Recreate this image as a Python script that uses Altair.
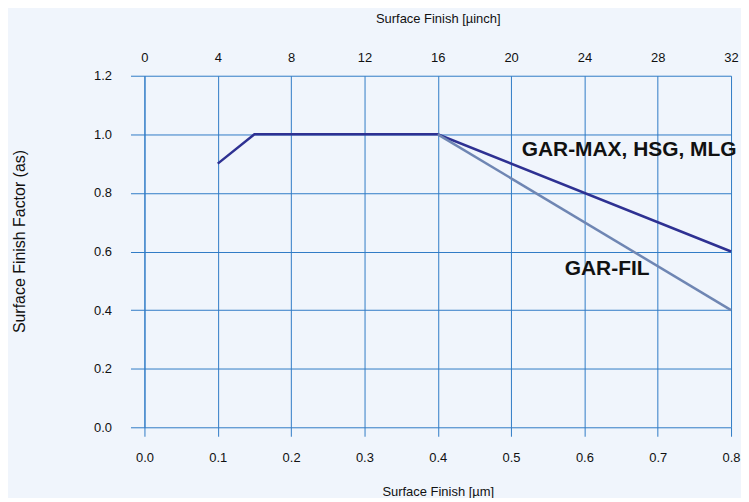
import altair as alt
import pandas as pd

# data
max_x = [0.1, 0.15, 0.4, 0.8]
max_y = [0.9, 1.0, 1.0, 0.6]
fil_x = [0.4, 0.8]
fil_y = [1.0, 0.4]
labels = ["GAR-MAX, HSG, MLG", "GAR-FIL"]
label_x = [0.661, 0.631]
label_y = [0.948, 0.54]
um_ticks = [0, 0.1, 0.2, 0.3, 0.4, 0.5, 0.6, 0.7, 0.8]
uinch_ticks = [0, 4, 8, 12, 16, 20, 24, 28, 32]
y_ticks = [0, 0.2, 0.4, 0.6, 0.8, 1.0, 1.2]

df = pd.DataFrame({
    "x": max_x + fil_x,
    "y": max_y + fil_y,
    "s": ["GAR-MAX, HSG, MLG"] * len(max_x) + ["GAR-FIL"] * len(fil_x),
})
df["xin"] = df["x"] * 40
lab = pd.DataFrame({"x": label_x, "y": label_y, "t": labels})

GRID = "#2f7bc6"
FONT = "Liberation Sans"

xs = alt.Scale(domain=[0, 0.8], nice=False, zero=False)
ys = alt.Scale(domain=[0, 1.2], nice=False)
yaxis = alt.Axis(
    values=y_ticks, format=".1f",
    title="Surface Finish Factor (as)", titleFontSize=16, grid=True, gridColor=GRID,
    tickColor=GRID, tickSize=14, domainColor=GRID, labelPadding=19,
    labelFlush=False, titlePadding=66, titleY=166)

lines = alt.Chart(df).mark_line(strokeWidth=2.5).encode(
    x=alt.X("x:Q", scale=xs, axis=alt.Axis(
        values=um_ticks, format=".1f",
        title="Surface Finish [µm]", orient="bottom", grid=True, gridColor=GRID,
        tickColor=GRID, tickSize=9, domain=False, labelPadding=15,
        labelFlush=False, titlePadding=21)),
    y=alt.Y("y:Q", scale=ys, axis=yaxis),
    color=alt.Color("s:N", scale=alt.Scale(
        domain=["GAR-MAX, HSG, MLG", "GAR-FIL"], range=["#2e3192", "#6f86b3"]),
        legend=None),
    order=alt.Order("s:N", sort="ascending"),
)

texts = alt.Chart(lab).mark_text(fontSize=21, fontWeight="bold", font=FONT, color="#111111").encode(
    x=alt.X("x:Q", scale=xs),
    y=alt.Y("y:Q", scale=ys, axis=yaxis),
    text="t:N",
)

base = alt.layer(lines, texts)

top = alt.Chart(df).mark_line(opacity=0).encode(
    x=alt.X("xin:Q", scale=alt.Scale(domain=[0, 32], nice=False), axis=alt.Axis(
        values=uinch_ticks, orient="top", title="Surface Finish [µinch]",
        grid=False, ticks=False, domain=False, labelPadding=11, labelFlush=False,
        titlePadding=26)),
    y=alt.Y("y:Q", scale=ys, axis=yaxis),
)

chart = alt.layer(base, top).resolve_scale(x="independent").properties(
    width=589, height=353,
    autosize=alt.AutoSizeParams(type="none"),
    padding={"left": 137, "top": 67, "right": 10, "bottom": 70},
    background="#f0f5fc",
).configure_view(stroke=None).configure_axis(
    labelFont=FONT, titleFont=FONT, labelFontSize=13, titleFontSize=13,
    titleFontWeight="normal", labelColor="#111111", titleColor="#111111",
)

chart.save("out.html", embed_options={"renderer": "svg", "actions": False})
